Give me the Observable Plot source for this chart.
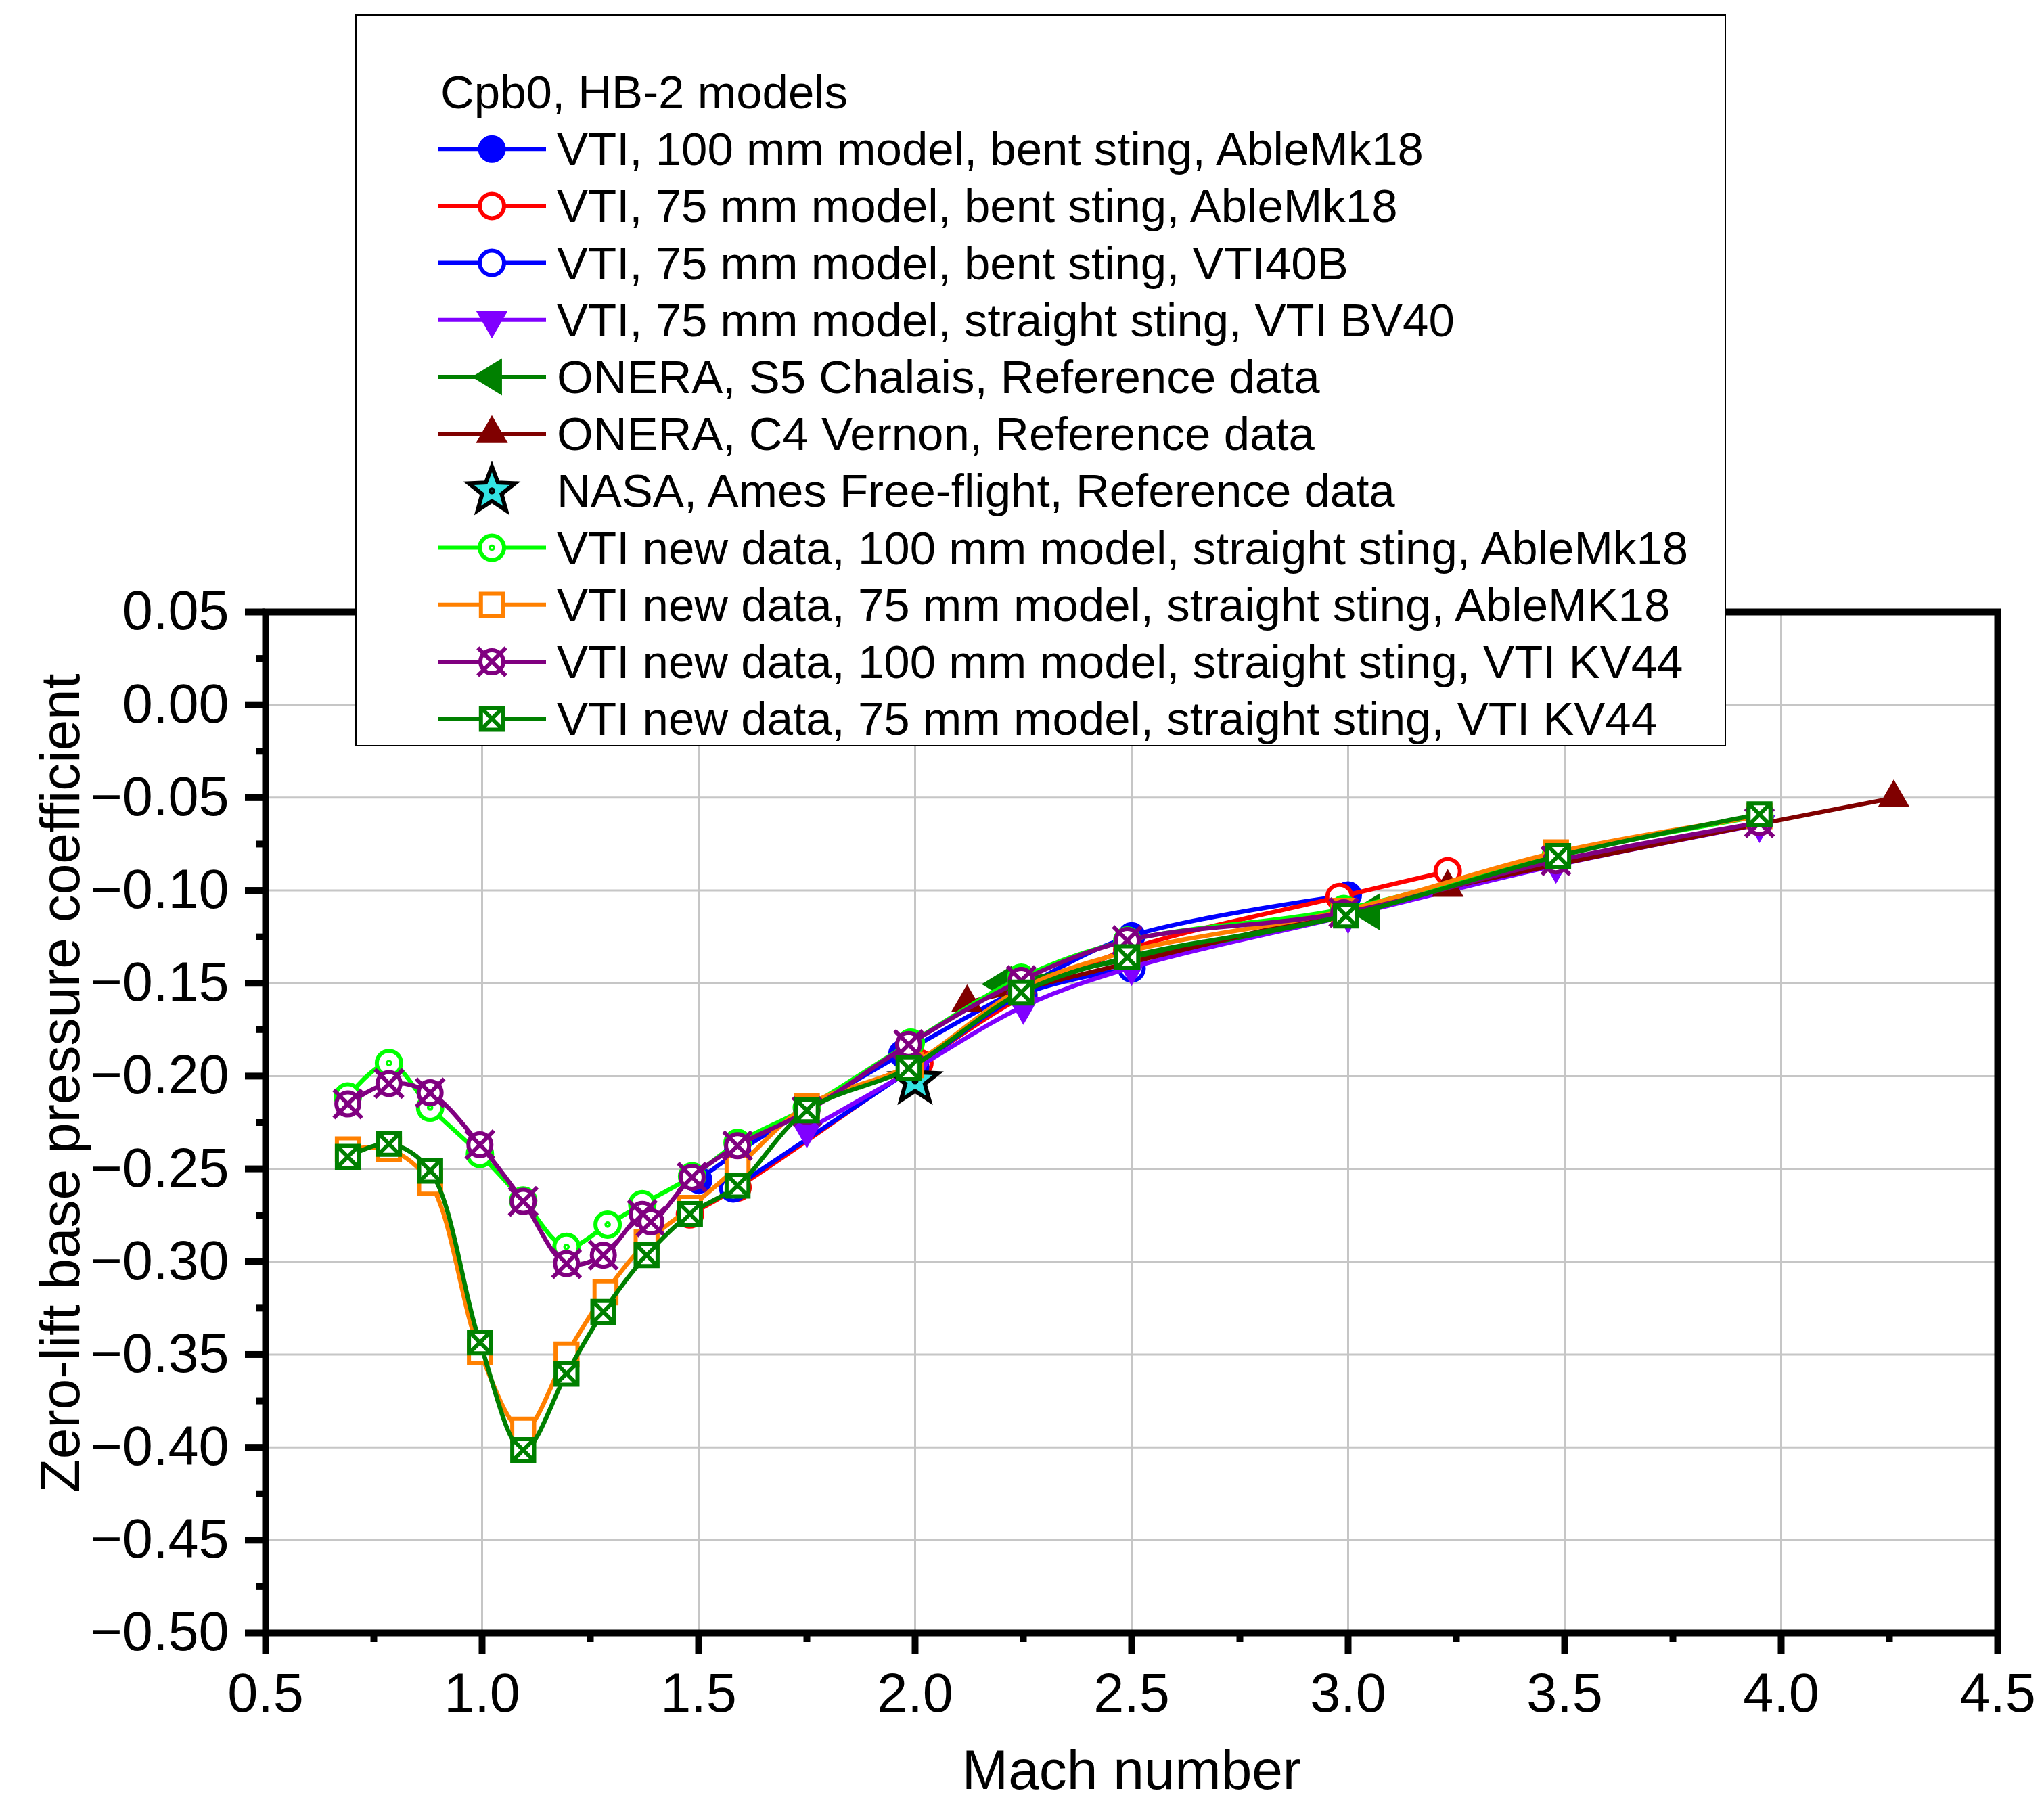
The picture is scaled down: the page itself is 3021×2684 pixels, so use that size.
<!DOCTYPE html>
<html>
<head>
<meta charset="utf-8">
<script src="https://cdn.jsdelivr.net/npm/d3@7"></script>
<script src="https://cdn.jsdelivr.net/npm/@observablehq/plot@0.6"></script>
<style>
html, body { margin: 0; padding: 0; background: #fff; }
#wrap { position: relative; width: 3021px; height: 2684px; font-family: "Liberation Sans", Arial, sans-serif; }
#legend { position: absolute; left: 525px; top: 21px; width: 2026px; height: 1082px; box-sizing: border-box; border: 2.5px solid #000; background: #fff; overflow: hidden; }
#legend svg { position: absolute; left: -2.5px; top: -2.5px; }
</style>
</head>
<body>
<div id="wrap"><div id="legend"></div></div>
<script>
// ---------------- data ----------------
const legendTitle = "Cpb0, HB-2 models";
const seriesNames = [
  "VTI, 100 mm model, bent sting, AbleMk18",
  "VTI, 75 mm model, bent sting, AbleMk18",
  "VTI, 75 mm model, bent sting, VTI40B",
  "VTI, 75 mm model, straight sting, VTI BV40",
  "ONERA, S5 Chalais, Reference data",
  "ONERA, C4 Vernon, Reference data",
  "NASA, Ames Free-flight, Reference data",
  "VTI new data, 100 mm model, straight sting, AbleMk18",
  "VTI new data, 75 mm model, straight sting, AbleMK18",
  "VTI new data, 100 mm model, straight sting, VTI KV44",
  "VTI new data, 75 mm model, straight sting, VTI KV44"
];

const machVti100Bent = [1.50, 1.59, 1.97, 2.25, 2.50, 3.00];
const cpVti100Bent   = [-0.256, -0.241, -0.188, -0.152, -0.1245, -0.1025];

const machVti75BentAble = [1.48, 1.59, 2.01, 2.25, 2.49, 2.98, 3.23];
const cpVti75BentAble   = [-0.2745, -0.260, -0.193, -0.157, -0.132, -0.1035, -0.0897];

const machVti75Bent40B = [1.58, 2.00, 2.25, 2.50];
const cpVti75Bent40B   = [-0.2605, -0.195, -0.156, -0.142];

const machVti75BV40 = [1.75, 2.00, 2.25, 2.50, 3.00, 3.48, 3.95];
const cpVti75BV40   = [-0.229, -0.196, -0.1625, -0.1415, -0.1135, -0.0865, -0.0645];

const machOneraS5 = [2.20, 3.05];
const cpOneraS5   = [-0.1505, -0.1115];

const machOneraC4 = [2.12, 3.23, 4.26];
const cpOneraC4   = [-0.1605, -0.0985, -0.0502];

const machNasa = [2.00];
const cpNasa   = [-0.2025];

const machNew100Able = [0.69, 0.785, 0.88, 0.995, 1.095, 1.195, 1.29, 1.37, 1.485, 1.59, 1.75, 1.99, 2.245, 2.49, 2.99, 3.48, 3.95];
const cpNew100Able   = [-0.211, -0.193, -0.217, -0.242, -0.267, -0.292, -0.280, -0.269, -0.254, -0.236, -0.217, -0.182, -0.147, -0.127, -0.110, -0.081, -0.060];

const machNew75Able = [0.69, 0.785, 0.88, 0.995, 1.095, 1.195, 1.285, 1.38, 1.48, 1.59, 1.75, 1.99, 2.245, 2.49, 2.99, 3.48, 3.95];
const cpNew75Able   = [-0.2395, -0.2395, -0.2575, -0.3485, -0.3905, -0.350, -0.3165, -0.2895, -0.271, -0.249, -0.216, -0.194, -0.153, -0.133, -0.111, -0.0795, -0.060];

const machNew100KV44 = [0.69, 0.785, 0.88, 0.995, 1.095, 1.195, 1.28, 1.37, 1.39, 1.485, 1.59, 1.75, 1.985, 2.245, 2.49, 2.99, 3.48, 3.95];
const cpNew100KV44   = [-0.215, -0.204, -0.209, -0.237, -0.2675, -0.301, -0.2965, -0.2745, -0.2785, -0.2545, -0.2375, -0.219, -0.183, -0.1485, -0.127, -0.112, -0.084, -0.0635];

const machNew75KV44 = [0.69, 0.785, 0.88, 0.995, 1.095, 1.195, 1.28, 1.38, 1.48, 1.59, 1.75, 1.985, 2.245, 2.49, 2.995, 3.485, 3.95];
const cpNew75KV44   = [-0.2435, -0.2365, -0.251, -0.3435, -0.4015, -0.3603, -0.327, -0.2965, -0.2743, -0.259, -0.2185, -0.1958, -0.155, -0.136, -0.1135, -0.0815, -0.059];

const xTicks = [0.5, 1.0, 1.5, 2.0, 2.5, 3.0, 3.5, 4.0, 4.5];
const xMinorTicks = [0.75, 1.25, 1.75, 2.25, 2.75, 3.25, 3.75, 4.25];
const yTicks = [0.05, 0, -0.05, -0.10, -0.15, -0.20, -0.25, -0.30, -0.35, -0.40, -0.45, -0.50];
const yMinorTicks = [0.025, -0.025, -0.075, -0.125, -0.175, -0.225, -0.275, -0.325, -0.375, -0.425, -0.475];
const xLabel = "Mach number";
const yLabel = "Zero-lift base pressure coefficient";

// ---------------- symbols ----------------
const rad = s => Math.sqrt(s / Math.PI);
const sym = {
  circle: { draw(c, s) { const r = rad(s); c.moveTo(r, 0); c.arc(0, 0, r, 0, 2 * Math.PI); } },
  circleDot: { draw(c, s) { const r = rad(s); c.moveTo(r, 0); c.arc(0, 0, r, 0, 2 * Math.PI);
    const d = r * 0.1; c.moveTo(d, 0); c.arc(0, 0, d, 0, 2 * Math.PI); } },
  circleX: { draw(c, s) { const r = rad(s) * 0.85; c.moveTo(r, 0); c.arc(0, 0, r, 0, 2 * Math.PI);
    const k = r * 1.22; c.moveTo(-k, -k); c.lineTo(k, k); c.moveTo(-k, k); c.lineTo(k, -k); } },
  square: { draw(c, s) { const h = rad(s) * 0.9; c.moveTo(-h, -h); c.lineTo(h, -h); c.lineTo(h, h); c.lineTo(-h, h); c.closePath(); } },
  squareX: { draw(c, s) { const h = rad(s) * 0.9; c.moveTo(-h, -h); c.lineTo(h, -h); c.lineTo(h, h); c.lineTo(-h, h); c.closePath();
    c.moveTo(-h, -h); c.lineTo(h, h); c.moveTo(-h, h); c.lineTo(h, -h); } },
  triUp: { draw(c, s) { const r = rad(s), b = 2.3 * r, h = 2.0 * r; c.moveTo(0, -2 * h / 3); c.lineTo(b / 2, h / 3); c.lineTo(-b / 2, h / 3); c.closePath(); } },
  triDown: { draw(c, s) { const r = rad(s), b = 2.3 * r, h = 2.0 * r; c.moveTo(0, 2 * h / 3); c.lineTo(b / 2, -h / 3); c.lineTo(-b / 2, -h / 3); c.closePath(); } },
  triLeft: { draw(c, s) { const r = rad(s), w = 2.2 * r, b = 2.7 * r; c.moveTo(-2 * w / 3, 0); c.lineTo(w / 3, -b / 2); c.lineTo(w / 3, b / 2); c.closePath(); } },
  star: { draw(c, s) { const ro = rad(s), ri = ro * 0.42;
    for (let i = 0; i < 10; i++) { const a = -Math.PI / 2 + i * Math.PI / 5, rr = i % 2 ? ri : ro;
      const x = rr * Math.cos(a), y = rr * Math.sin(a); if (i) c.lineTo(x, y); else c.moveTo(x, y); }
    c.closePath(); const d = ro * 0.06; c.moveTo(d, 0); c.arc(0, 0, d, 0, 2 * Math.PI); } }
};

// styles per series (not data)
const styles = [
  { line: "#0000ff", symbol: sym.circle,    fill: "#0000ff", stroke: "#0000ff", r: 19, sw: 3 },
  { line: "#ff0000", symbol: sym.circle,    fill: "#ffffff", stroke: "#ff0000", r: 18, sw: 6 },
  { line: "#0000ff", symbol: sym.circle,    fill: "#ffffff", stroke: "#0000ff", r: 18, sw: 6 },
  { line: "#8000ff", symbol: sym.triDown,   fill: "#8000ff", stroke: "#8000ff", r: 19, sw: 2 },
  { line: "#008000", symbol: sym.triLeft,   fill: "#008000", stroke: "#008000", r: 19, sw: 2 },
  { line: "#800000", symbol: sym.triUp,     fill: "#800000", stroke: "#800000", r: 19, sw: 2 },
  { line: null,      symbol: sym.star,      fill: "#33e3e3", stroke: "#000000", r: 36, sw: 6 },
  { line: "#00ff00", symbol: sym.circleDot, fill: "#ffffff", stroke: "#00ff00", r: 18, sw: 6 },
  { line: "#ff8000", symbol: sym.square,    fill: "#ffffff", stroke: "#ff8000", r: 18, sw: 6 },
  { line: "#800080", symbol: sym.circleX,   fill: "#ffffff", stroke: "#800080", r: 20, sw: 6 },
  { line: "#008000", symbol: sym.squareX,   fill: "#ffffff", stroke: "#008000", r: 18, sw: 6 }
];

const machs = [machVti100Bent, machVti75BentAble, machVti75Bent40B, machVti75BV40, machOneraS5, machOneraC4, machNasa, machNew100Able, machNew75Able, machNew100KV44, machNew75KV44];
const cps = [cpVti100Bent, cpVti75BentAble, cpVti75Bent40B, cpVti75BV40, cpOneraS5, cpOneraC4, cpNasa, cpNew100Able, cpNew75Able, cpNew100KV44, cpNew75KV44];

const seriesData = machs.map((ms, i) => ms.map((m, j) => ({ M: m, Cp: cps[i][j] })));

// ---------------- plot ----------------
const marks = [
  Plot.gridX({ ticks: xTicks, stroke: "#c6c6c6", strokeOpacity: 1, strokeWidth: 3 }),
  Plot.gridY({ ticks: yTicks, stroke: "#c6c6c6", strokeOpacity: 1, strokeWidth: 3 })
];
seriesData.forEach((d, i) => {
  const st = styles[i];
  if (st.line && d.length > 1) {
    marks.push(Plot.line(d, { x: "M", y: "Cp", stroke: st.line, strokeWidth: 6.5, curve: "catmull-rom" }));
  }
  marks.push(Plot.dot(d, { x: "M", y: "Cp", symbol: st.symbol, r: st.r, fill: st.fill, stroke: st.stroke, strokeWidth: st.sw }));
});
marks.push(
  Plot.frame({ stroke: "#000", strokeWidth: 10 }),
  Plot.axisX({ ticks: xTicks, tickSize: 31, tickPadding: 28, strokeWidth: 10, stroke: "#000", tickFormat: d3.format(".1f"), fontSize: 81, label: null }),
  Plot.axisX({ ticks: xMinorTicks, tickSize: 14, strokeWidth: 10, stroke: "#000", tickFormat: () => "", label: null }),
  Plot.axisY({ ticks: yTicks, tickSize: 30, tickPadding: 24, strokeWidth: 10, stroke: "#000", tickFormat: d3.format(".2f"), fontSize: 81, label: null }),
  Plot.axisY({ ticks: yMinorTicks, tickSize: 14, strokeWidth: 10, stroke: "#000", tickFormat: () => "", label: null }),
  Plot.text([xLabel], { frameAnchor: "bottom", dy: 204, fontSize: 82, textAnchor: "middle", lineAnchor: "middle", fill: "#000" }),
  Plot.text([yLabel], { frameAnchor: "left", dx: -302, dy: -58, rotate: -90, fontSize: 82, textAnchor: "middle", lineAnchor: "middle", fill: "#000" })
);

const chart = Plot.plot({
  width: 3021,
  height: 2684,
  marginLeft: 392,
  marginRight: 69,
  marginTop: 904,
  marginBottom: 271,
  x: { domain: [0.5, 4.5] },
  y: { domain: [-0.5, 0.05] },
  style: { fontFamily: "'Liberation Sans', Arial, sans-serif", background: "#fff", color: "#000", overflow: "visible" },
  marks
});
document.getElementById("wrap").prepend(chart);

// ---------------- legend ----------------
const lg = d3.select("#legend").append("svg").attr("width", 2026).attr("height", 1082)
  .style("font-family", "'Liberation Sans', Arial, sans-serif");
const row0 = 115, rowStep = 84.2;
lg.append("text").attr("x", 126).attr("y", row0 + 24).attr("font-size", 69).text(legendTitle);
seriesNames.forEach((name, i) => {
  const y = row0 + rowStep * (i + 1);
  const st = styles[i];
  if (st.line) {
    lg.append("line").attr("x1", 123).attr("x2", 282).attr("y1", y).attr("y2", y)
      .attr("stroke", st.line).attr("stroke-width", 6);
  }
  lg.append("path").attr("transform", `translate(202,${y})`)
    .attr("d", d3.symbol(st.symbol, Math.PI * st.r * st.r)())
    .attr("fill", st.fill).attr("stroke", st.stroke).attr("stroke-width", st.sw);
  lg.append("text").attr("x", 298).attr("y", y + 24).attr("font-size", 69).text(name);
});
</script>
</body>
</html>
